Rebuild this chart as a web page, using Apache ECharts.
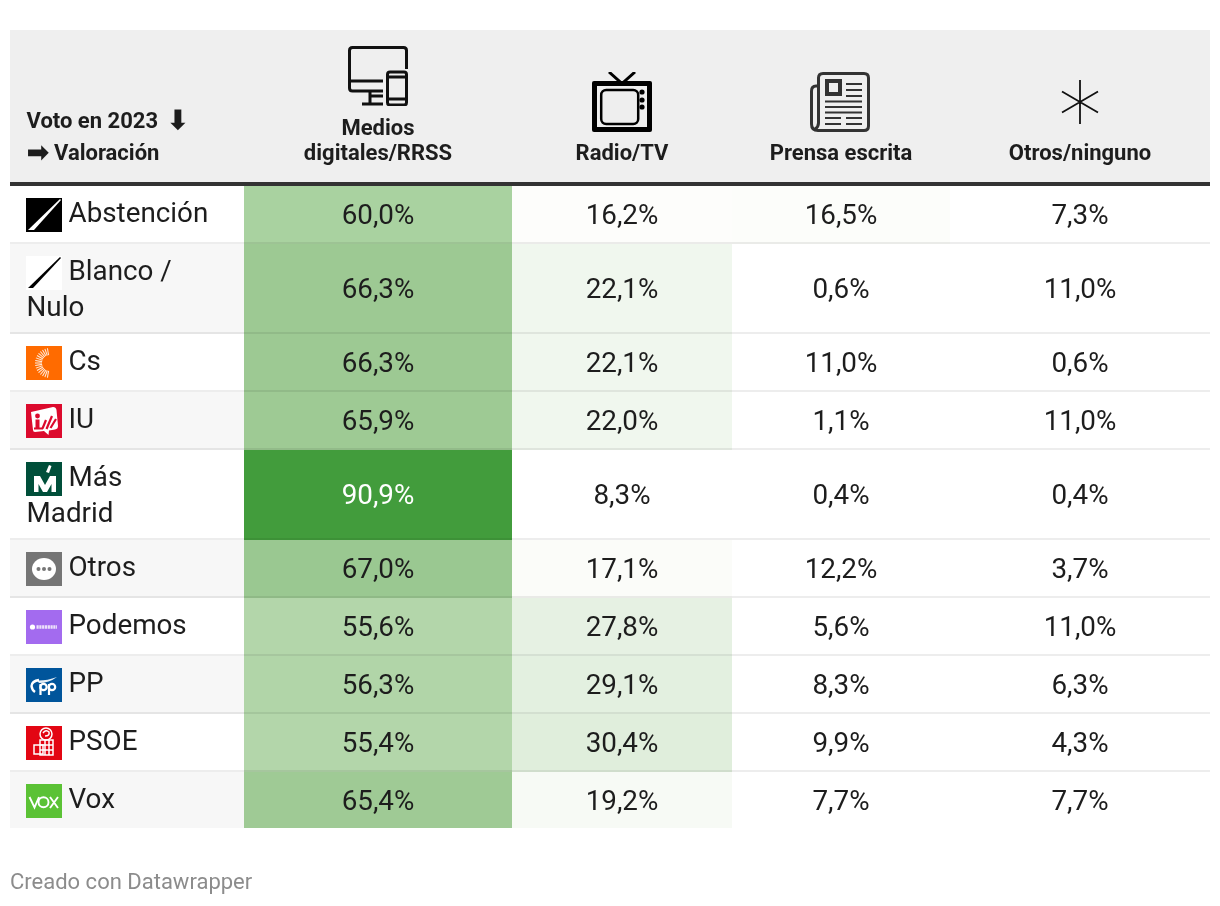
<!DOCTYPE html>
<html><head><meta charset="utf-8">
<style>html,body{margin:0;padding:0;background:#fff}#c{width:1220px;height:906px}</style>
<script src="https://cdn.jsdelivr.net/npm/echarts@6/dist/echarts.min.js"></script>
</head><body><div id="c"></div>
<script>
// ---------- data ----------
const rowLabels = [
  ['Abstención'], ['Blanco /', 'Nulo'], ['Cs'], ['IU'], ['Más', 'Madrid'],
  ['Otros'], ['Podemos'], ['PP'], ['PSOE'], ['Vox']
];
const digital = [60.0, 66.3, 66.3, 65.9, 90.9, 67.0, 55.6, 56.3, 55.4, 65.4];
const radioTv = [16.2, 22.1, 22.1, 22.0, 8.3, 17.1, 27.8, 29.1, 30.4, 19.2];
const prensa  = [16.5, 0.6, 11.0, 1.1, 0.4, 12.2, 5.6, 8.3, 9.9, 7.7];
const otros   = [7.3, 11.0, 0.6, 11.0, 0.4, 3.7, 11.0, 6.3, 4.3, 7.7];
const columns = [digital, radioTv, prensa, otros];
const columnHeaders = [['Medios', 'digitales/RRSS'], ['Radio/TV'], ['Prensa escrita'], ['Otros/ninguno']];
const cornerWords = ['Voto en 2023', 'Valoración'];
const cornerArrows = ['⬇', '➡'];
const footer = 'Creado con Datawrapper';
// colour scale: value -> cell colour
const scaleValues = [16, 16.2, 17.1, 19.2, 22.1, 27.8, 30.4, 55.4, 60, 66.3, 90.9];
const scaleColors = ['#ffffff','#fdfdfb','#fbfcf9','#f7faf5','#f0f7ee','#e6f1e3','#e0eedc','#b3d6aa','#a9d2a0','#9dc993','#429c3c'];

// ---------- layout ----------
const colEdges = [244, 512, 732, 950, 1210];
const rowTops = [186, 244, 334, 392, 450, 540, 598, 656, 714, 772];
const rowBottoms = [242, 332, 390, 448, 538, 596, 654, 712, 770, 828];
const tableLeft = 10, tableRight = 1210;
const FONT = 'Roboto';
const INK = '#1d1d1d';

function cellColor(v) {
  if (v <= scaleValues[0]) return scaleColors[0];
  for (let i = 1; i < scaleValues.length; i++) {
    if (v <= scaleValues[i]) {
      const t = (v - scaleValues[i-1]) / (scaleValues[i] - scaleValues[i-1]);
      return echarts.color.lerp(t, [scaleColors[i-1], scaleColors[i]]);
    }
  }
  return scaleColors[scaleColors.length - 1];
}
const fmt = v => v.toFixed(1).replace('.', ',') + '%';

const cellData = [];
columns.forEach((col, c) => col.forEach((v, r) => cellData.push([c, r, v])));

function txt(p, s, size, weight, fill, align) {
  return {type:'text', x:p[0], y:p[1], style:{text:s, fontFamily:FONT, fontSize:size, fontWeight:weight, fill:fill, align:align, verticalAlign:'middle'}};
}
function rect(p0, p1, fill) {
  return {type:'rect', shape:{x:p0[0], y:p0[1], width:p1[0]-p0[0], height:p1[1]-p0[1]}, style:{fill:fill}};
}

// ---------- icons ----------
const svg = (w, h, body) => 'data:image/svg+xml;charset=utf-8,' + encodeURIComponent(
  `<svg xmlns="http://www.w3.org/2000/svg" width="${w}" height="${h}" viewBox="0 0 ${w} ${h}">${body}</svg>`);
const party = (bg, body) => svg(36, 34, `<rect width="36" height="34" fill="${bg}"/>${body}`);
let csRays = '';
for (let a = 100; a <= 260; a += 10) {
  const r = a * Math.PI / 180, cx = 24, cy = 17, flip = Math.sin(r) > 0 ? 1 : -1;
  csRays += `<line x1="${cx + 8*Math.cos(r)}" y1="${cy + 8*flip*Math.abs(Math.sin(r))}" x2="${cx + 15*Math.cos(r)}" y2="${cy + 15*flip*Math.abs(Math.sin(r))}" stroke="#fff" stroke-width="1.05" opacity=".85"/>`;
}
const partyIcons = [
  party('#000', '<polygon points="2,32 8,32 35,2 34,1" fill="#fff"/>'),
  party('#fff', '<polygon points="2,32 7,32 35,2 34,1" fill="#000"/>'),
  party('#ff6b00', csRays),
  party('#dc0a2d', '<path d="M5 8 L27 3 Q30 3 30.5 6 L32 22 Q32 25 29 25.5 L23 26.5 L22.5 31 L18 27 L9 28 Q7 28 7 26 Z" fill="#fff"/><circle cx="11.5" cy="12" r="2.4" fill="#dc0a2d"/><path d="M11.5 15.5 V24" stroke="#dc0a2d" stroke-width="4"/><path d="M8 24.5 H17" stroke="#dc0a2d" stroke-width="2"/><path d="M20 16 L16.5 24.5 M26 12 L20.5 25 M30 15 L24.5 24" stroke="#dc0a2d" stroke-width="2.2" fill="none"/>'),
  party('#004f3a', '<polygon points="8,30 8,14 14,14 19,23 24,14 30,14 30,30 25.5,30 25.5,22 21,30 17,30 12.5,22 12.5,30" fill="#fff"/><polygon points="20,10 23,3 25.5,4 23,11" fill="#fff"/>'),
  party('#757575', '<ellipse cx="18" cy="17" rx="12" ry="11" fill="#fff"/><circle cx="12.5" cy="17" r="2" fill="#757575"/><circle cx="18" cy="17" r="2" fill="#757575"/><circle cx="23.5" cy="17" r="2" fill="#757575"/>'),
  party('#a36bef', '<circle cx="6.5" cy="17" r="2.6" fill="#fff"/><path d="M10.5 17 H31" stroke="#fff" stroke-width="3.4" stroke-dasharray="2.2 .6" opacity=".8"/>'),
  party('#00559b', '<path d="M13 12 Q6 13 5.5 18 Q6 22 9 24" fill="none" stroke="#fff" stroke-width="2.4"/><path d="M11 12.5 Q20 13 31 9 Q23 15 13 15 Z" fill="#fff" opacity=".9"/><path d="M14.5 16 V27 M23 16 V27" stroke="#fff" stroke-width="2.2"/><circle cx="17.5" cy="19" r="3.2" fill="none" stroke="#fff" stroke-width="2.2"/><circle cx="26" cy="19" r="3.2" fill="none" stroke="#fff" stroke-width="2.2"/>'),
  party('#e30613', '<g fill="none" stroke="#fff" stroke-width="1.5"><circle cx="20" cy="8" r="6"/><path d="M17 7 Q20 3 23 6 Q24 10 19 10"/><path d="M14 14 H27 V29 H14 Z M14 19 H27 M14 24 H27 M19 14 V29 M23 14 V29"/><path d="M8 19 H17 V28 H8 Z"/></g>'),
  party('#5bc235', '<g fill="none" stroke="#fff" stroke-width="1.9"><path d="M3.5 13 L8.5 23.5 L13 13"/><circle cx="17.5" cy="18.3" r="5"/><path d="M24 13 L32 24 M32 13 L24 24"/></g>')
];
const headerIcons = [
  {x:348, y:46, w:60, h:60, src:svg(60,60,'<g fill="none" stroke="#111" stroke-width="3"><path d="M58.5 23 V4.5 Q58.5 1.5 55.5 1.5 H4.5 Q1.5 1.5 1.5 4.5 V42 Q1.5 45 4.5 45 H35"/><path d="M1.5 35 H35"/><path d="M22 45 V57 M14 58 H35 M22 50 H35"/><rect x="39.5" y="26" width="19" height="33" rx="2.5"/><path d="M39.5 31 H58.5 M39.5 53 H58.5"/></g>')},
  {x:592, y:72, w:60, h:60, src:svg(60,60,'<rect y="9" width="60" height="51" rx="2" fill="#000"/><rect x="5" y="14" width="50" height="41" fill="#eee"/><path d="M17 0 L30 11.5 L43 0" fill="none" stroke="#000" stroke-width="3"/><rect x="9.2" y="18" width="37" height="34" rx="5" fill="#eee" stroke="#000" stroke-width="2.5"/><circle cx="50" cy="20" r="2.6"/><circle cx="50" cy="28" r="2.6"/><circle cx="50" cy="35" r="2.6"/>')},
  {x:810, y:72, w:60, h:60, src:svg(60,60,'<g fill="none" stroke="#333"><path d="M8 14 H6 Q1.5 14 1.5 19 V52 Q1.5 58.5 8 58.5 H54 Q58.5 58.5 58.5 54 V6 Q58.5 1.5 54 1.5 H13 Q8.5 1.5 8.5 6 V51 Q8.5 55 5 57" stroke-width="3"/><rect x="17" y="9" width="13" height="13" stroke-width="4"/><path stroke-width="2" d="M36 12 H52 M36 18 H52 M36 24 H52 M15 29.5 H52 M15 35 H52 M15 40.5 H52 M15 46 H31 M36 46 H52 M15 52 H31 M36 52 H52"/></g>')},
  {x:1060, y:80, w:40, h:44, src:svg(40,44,'<path d="M20 0 V44 M2 11.5 L38 32.5 M38 11.5 L2 32.5" stroke="#111" stroke-width="1.8" fill="none"/>')}
];

const graphics = [];
partyIcons.forEach((src, i) => graphics.push({type:'image', z:20, style:{image:src, x:26, y:rowTops[i]+12, width:36, height:34}}));
headerIcons.forEach(h => graphics.push({type:'image', z:20, style:{image:h.src, x:h.x, y:h.y, width:h.w, height:h.h}}));

// ---------- chart ----------
const chart = echarts.init(document.getElementById('c'), null, {renderer:'canvas'});
const rowCount = rowTops.length;
chart.setOption({
  animation:false,
  backgroundColor:'#fff',
  grid:{left:0, right:0, top:0, bottom:0, containLabel:false},
  xAxis:{type:'value', min:0, max:1220, show:false},
  yAxis:{type:'value', min:0, max:906, inverse:true, show:false},
  tooltip:{show:false},
  graphic:{elements:graphics},
  series:[
    { // header band, row labels, footer
      type:'custom', coordinateSystem:'cartesian2d', silent:true, clip:false, z:1,
      data:[[0,0]],
      renderItem(params, api){
        const ch = [];
        ch.push(rect(api.coord([tableLeft,30]), api.coord([tableRight,182]), '#efefef'));
        ch.push(rect(api.coord([tableLeft,182]), api.coord([tableRight,186]), '#333333'));
        ch.push(txt(api.coord([26.5,122.5]), cornerWords[0], 22, 700, INK, 'left'));
        ch.push(txt(api.coord([167,122]), cornerArrows[0], 26, 700, INK, 'left'));
        ch.push(txt(api.coord([26.5,154]), cornerArrows[1], 26, 700, INK, 'left'));
        ch.push(txt(api.coord([54,154.5]), cornerWords[1], 22, 700, INK, 'left'));
        columnHeaders.forEach((lines, c) => {
          const cx = (colEdges[c] + colEdges[c+1]) / 2;
          lines.forEach((s, k) => ch.push(txt(api.coord([cx, 154.5 - (lines.length-1-k)*25.5]), s, 22, 700, INK, 'center')));
        });
        rowLabels.forEach((lines, r) => {
          const bottom = r === rowCount - 1 ? rowBottoms[r] : rowBottoms[r] + 2;
          if (r % 2 === 1) ch.push(rect(api.coord([tableLeft,rowTops[r]]), api.coord([colEdges[0],bottom]), '#f7f7f7'));
          lines.forEach((s, k) => ch.push(txt(api.coord([k === 0 ? 68.5 : 26.5, rowTops[r]+29+k*36]), s, 27.8, 400, INK, 'left')));
        });
        ch.push(txt(api.coord([10,883]), footer, 22, 400, '#8c8c8c', 'left'));
        return {type:'group', children:ch};
      }
    },
    { // value cells
      type:'custom', coordinateSystem:'cartesian2d', silent:true, clip:false, z:2,
      data:cellData,
      encode:{x:0, y:1},
      renderItem(params, api){
        const c = api.value(0), r = api.value(1), v = api.value(2);
        const x0 = colEdges[c], x1 = colEdges[c+1], y0 = rowTops[r], y1 = rowBottoms[r];
        const color = cellColor(v);
        const last = r === rowCount - 1;
        return {type:'group', children:[
          rect(api.coord([x0,y0]), api.coord([x1,last ? y1 : y1+2]), color),
          txt(api.coord([(x0+x1)/2,(y0+y1)/2+3]), fmt(v), 27.8, 400, v > 80 ? '#ffffff' : INK, 'center')
        ]};
      }
    },
    { // row separators
      type:'custom', coordinateSystem:'cartesian2d', silent:true, clip:false, z:3,
      data:rowBottoms.slice(0,-1).map(y => [tableLeft, y]),
      encode:{x:0, y:1},
      renderItem(params, api){
        const y = api.value(1);
        return rect(api.coord([tableLeft,y]), api.coord([tableRight,y+2]), 'rgba(0,0,0,0.07)');
      }
    }
  ]
});
</script></body></html>
